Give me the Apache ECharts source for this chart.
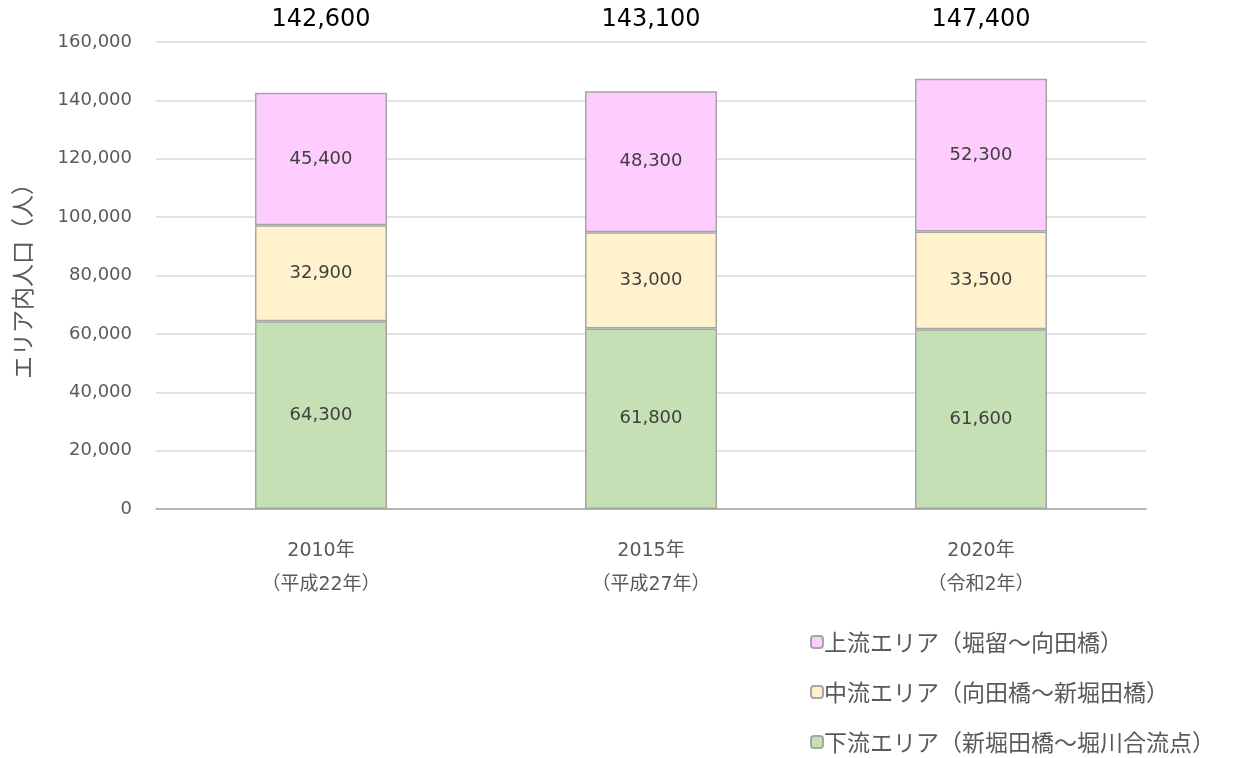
<!DOCTYPE html>
<html>
<head>
<meta charset="utf-8">
<script src="https://cdn.jsdelivr.net/npm/echarts@6/dist/echarts.min.js"></script>
<style>
html, body { margin: 0; padding: 0; background: #fff; }
#chart { width: 1233px; height: 758px; }
</style>
</head>
<body>
<div id="chart"></div>
<script>
// カテゴリ（年）
var years = ['2010年\n（平成22年）', '2015年\n（平成27年）', '2020年\n（令和2年）'];
// 各エリアの人口
var lowerArea = [64300, 61800, 61600];
var middleArea = [32900, 33000, 33500];
var upperArea = [45400, 48300, 52300];
// 合計（上部表示）
var totals = [142600, 143100, 147400];

var FONT = '"DejaVu Sans", "Noto Sans CJK JP", sans-serif';
var JP_FONT = '"Noto Sans CJK JP", sans-serif';

function fmt(v) {
	return Number(v).toLocaleString('en-US');
}

function makeSeries(name, data, color) {
	return {
		name: name,
		type: 'bar',
		stack: 'total',
		barWidth: 132,
		data: data,
		itemStyle: {
			color: color,
			borderColor: '#a6a6a6',
			borderWidth: 1.5
		},
		label: {
			show: true,
			position: 'inside',
			color: '#404040',
			fontSize: 18,
			fontFamily: FONT,
			formatter: function (p) { return fmt(p.value); }
		}
	};
}

var chart = echarts.init(document.getElementById('chart'));
var option = {
	animation: false,
	backgroundColor: '#fff',
	textStyle: { fontFamily: FONT },
	grid: { left: 156, right: 87, top: 42, bottom: 249, containLabel: false },
	legend: {
		orient: 'vertical',
		left: 805,
		top: 625,
		height: 200,
		itemWidth: 12,
		itemHeight: 12,
		itemGap: 26,
		selectedMode: false,
		data: ['上流エリア（堀留～向田橋）', '中流エリア（向田橋～新堀田橋）', '下流エリア（新堀田橋～堀川合流点）'],
		textStyle: { fontSize: 23, lineHeight: 24, color: '#595959', fontFamily: JP_FONT, padding: [0, 0, 0, -4] }
	},
	xAxis: [{
		type: 'category',
		data: years,
		axisLine: { lineStyle: { color: '#a6a6a6', width: 1.5 } },
		axisTick: { show: false },
		axisLabel: { color: '#595959', fontSize: 19, lineHeight: 34, margin: 25, fontFamily: FONT }
	}, {
		type: 'category',
		position: 'top',
		data: totals.map(fmt),
		axisLine: { show: false },
		axisTick: { show: false },
		axisLabel: { color: '#000', fontSize: 24, margin: 10, fontFamily: FONT }
	}],
	yAxis: {
		type: 'value',
		min: 0,
		max: 160000,
		interval: 20000,
		name: 'エリア内人口（人）',
		nameLocation: 'middle',
		nameGap: 122,
		nameRotate: 90,
		nameTextStyle: { color: '#595959', fontSize: 23, fontFamily: JP_FONT },
		axisLine: { show: false },
		axisTick: { show: false },
		splitLine: { lineStyle: { color: '#d9d9d9', width: 1.5 } },
		axisLabel: { color: '#595959', fontSize: 18, margin: 24, fontFamily: FONT, formatter: fmt }
	},
	series: [
		makeSeries('下流エリア（新堀田橋～堀川合流点）', lowerArea, '#c5e0b4'),
		makeSeries('中流エリア（向田橋～新堀田橋）', middleArea, '#fff2cc'),
		makeSeries('上流エリア（堀留～向田橋）', upperArea, '#ffccff')
	]
};
chart.setOption(option);
</script>
</body>
</html>
